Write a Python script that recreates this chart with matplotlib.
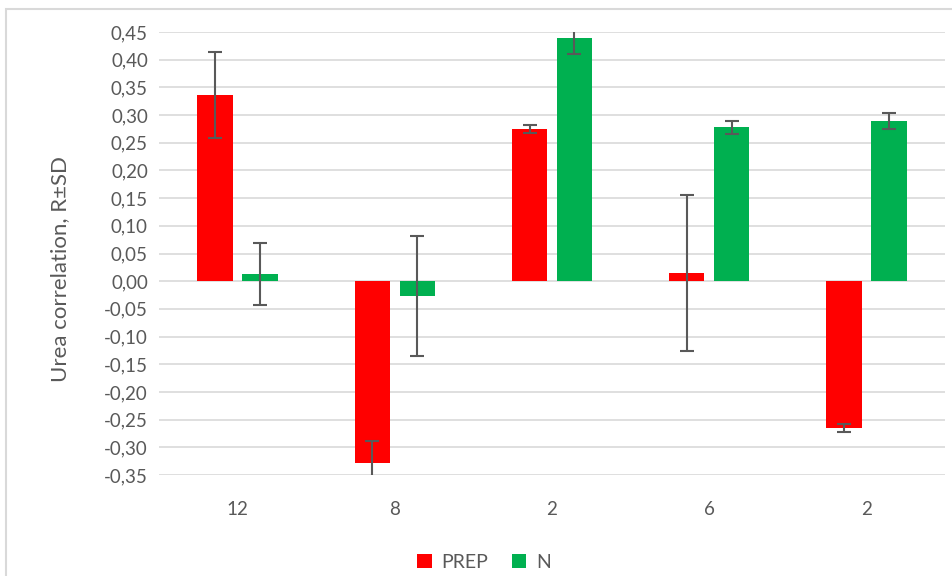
"""Urea correlation bar chart with SD error bars."""
import matplotlib
matplotlib.use("Agg")
import numpy as np
from matplotlib import pyplot as plt
from matplotlib.patches import Rectangle

categories = ["12", "8", "2", "6", "2"]
prep = [0.336, -0.328, 0.275, 0.0145, -0.265]
prep_sd = [0.0775, 0.040, 0.007, 0.141, 0.0075]
n_vals = [0.013, -0.0265, 0.439, 0.278, 0.289]
n_sd = [0.0565, 0.108, 0.028, 0.012, 0.0145]

plt.rcParams["font.family"] = ["Lato", "DejaVu Sans"]
text_color = "#595959"

fig = plt.figure(figsize=(9.53, 5.76), dpi=100)
ax = fig.add_axes([159 / 953, 1 - 475 / 576, 786 / 953, 443 / 576])

x = np.arange(len(categories))
w = 0.226
off = 0.143
err_kw = dict(ecolor="#595959", elinewidth=1.5, capsize=5.2, capthick=1.5)
ax.bar(x - off, prep, w, yerr=prep_sd, color="#FF0000", label="PREP",
       error_kw=err_kw, zorder=3)
ax.bar(x + off, n_vals, w, yerr=n_sd, color="#00B050", label="N",
       error_kw=err_kw, zorder=3)

ax.set_xlim(-0.5, len(categories) - 0.5)
ax.set_ylim(-0.35, 0.45)
yt = np.arange(-0.35, 0.451, 0.05)
ax.set_yticks(yt)
ax.set_yticklabels([f"{v:.2f}".replace(".", ",").replace("-0,00", "0,00") for v in yt])
ax.set_xticks(x)
ax.set_xticklabels(categories)
ax.tick_params(length=0, labelsize=13.5, colors=text_color)
ax.tick_params(axis="x", pad=19)
ax.tick_params(axis="y", pad=8)
ax.grid(axis="y", color="#D9D9D9", linewidth=1.2, zorder=0)
ax.set_axisbelow(True)
for s in ax.spines.values():
    s.set_visible(False)

ax.set_ylabel("Urea correlation, R±SD", fontsize=16, color=text_color)
ax.yaxis.set_label_coords(-0.113, 0.465)

fig.legend(loc="center", bbox_to_anchor=(484 / 953, 1 - 562 / 576), ncol=2,
           frameon=False, fontsize=14, handlelength=0.75, handleheight=0.75,
           handletextpad=0.5, columnspacing=1.2, labelcolor=text_color)

fig.patches.append(Rectangle((6 / 953, -0.01), 1.0, 1 - 9 / 576 + 0.01,
                             transform=fig.transFigure, fill=False,
                             edgecolor="#D9D9D9", linewidth=1.5))

fig.savefig("out.png", dpi=100)
